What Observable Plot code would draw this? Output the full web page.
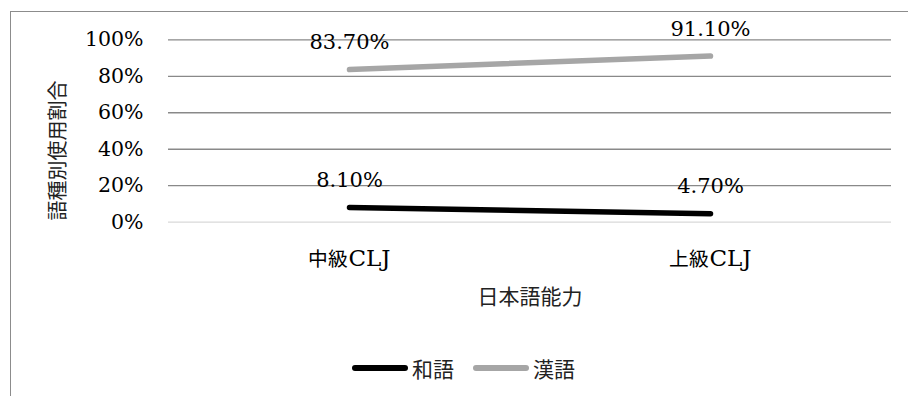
<!DOCTYPE html>
<html><head><meta charset="utf-8">
<script src="https://cdn.jsdelivr.net/npm/d3@7"></script>
<script src="https://cdn.jsdelivr.net/npm/@observablehq/plot@0.6"></script>
<style>
@font-face{font-family:"CJKsmall";src:local("Noto Sans CJK JP Regular"),local("NotoSansCJKjp-Regular"),local("Noto Sans CJK JP");size-adjust:86%;}
html,body{margin:0;padding:0;background:#fff;width:908px;height:396px;overflow:hidden;position:relative;}
#frame{position:absolute;left:10px;top:11px;width:1000px;height:500px;border:1.5px solid #8c8c8c;pointer-events:none;}
#chart{position:absolute;left:0;top:0;}
#legend{position:absolute;left:352px;top:353px;display:flex;align-items:center;font-family:"Noto Sans CJK JP",sans-serif;font-size:21px;color:#222;}
.sw{display:inline-block;width:56px;height:5.5px;border-radius:3px;margin-right:4px;}
.item{display:flex;align-items:center;margin-right:19px;}
</style></head>
<body>
<div id="chart"></div>
<div id="frame"></div>
<div id="legend"></div>
<script>
const categories = ["中級CLJ", "上級CLJ"];
const seriesNames = ["和語", "漢語"];
const wago = [0.081, 0.047];
const kango = [0.837, 0.911];
const seriesColors = ["#000000", "#a6a6a6"];
const yTicks = [0, 0.2, 0.4, 0.6, 0.8, 1];
const yTitle = "語種別使用割合";
const xTitle = "日本語能力";

const rows = [];
categories.forEach((c, i) => {
  rows.push({cat: c, series: seriesNames[0], value: wago[i]});
  rows.push({cat: c, series: seriesNames[1], value: kango[i]});
});

const fmtLabel = d3.format(".2%");
const serif = "'Century Schoolbook','DejaVu Serif','CJKsmall','Noto Sans CJK JP',serif";

const plot = Plot.plot({
  width: 908,
  height: 320,
  marginLeft: 168,
  marginRight: 17,
  marginTop: 39.3,
  marginBottom: 98.3,
  style: {background: "transparent", fontFamily: serif, fontSize: "20px", color: "#000", overflow: "visible"},
  x: {type: "point", domain: categories, padding: 0.5},
  y: {domain: [0, 1]},
  color: {domain: seriesNames, range: seriesColors},
  marks: [
    Plot.ruleY(yTicks.filter(d => d > 0), {stroke: "#898989", strokeWidth: 1.3}),
    Plot.ruleY([0], {stroke: "#d9d9d9", strokeWidth: 1.3}),
    Plot.axisY({ticks: yTicks, tickFormat: d3.format(".0%"), tickSize: 0, tickPadding: 25, label: null, fontSize: 20.5}),
    Plot.axisX({tickSize: 0, tickPadding: 27, label: null, fontSize: 23}),
    Plot.line(rows, {x: "cat", y: "value", z: "series", stroke: "series", strokeWidth: 5.5, strokeLinecap: "round", strokeLinejoin: "round"}),
    Plot.text(rows, {x: "cat", y: "value", text: d => fmtLabel(d.value), dy: -27, lineAnchor: "middle", fontSize: 21, fill: "#000"}),
    Plot.text([yTitle], {text: d => d, frameAnchor: "left", textAnchor: "middle", lineAnchor: "middle", rotate: -90, dx: -110, dy: 19.5, fontSize: 20, fontFamily: "'Noto Sans CJK JP',sans-serif", fill: "#222"}),
    Plot.text([xTitle], {text: d => d, frameAnchor: "bottom", dy: 75, lineAnchor: "middle", fontSize: 21, fontFamily: "'Noto Sans CJK JP',sans-serif", fill: "#222", letterSpacing: 3})
  ]
});
document.getElementById("chart").append(plot);

const legend = document.getElementById("legend");
seriesNames.forEach((s, i) => {
  const item = document.createElement("span");
  item.className = "item";
  const sw = document.createElement("span");
  sw.className = "sw";
  sw.style.background = seriesColors[i];
  const t = document.createElement("span");
  t.textContent = s;
  item.append(sw, t);
  legend.append(item);
});
</script>
</body></html>
